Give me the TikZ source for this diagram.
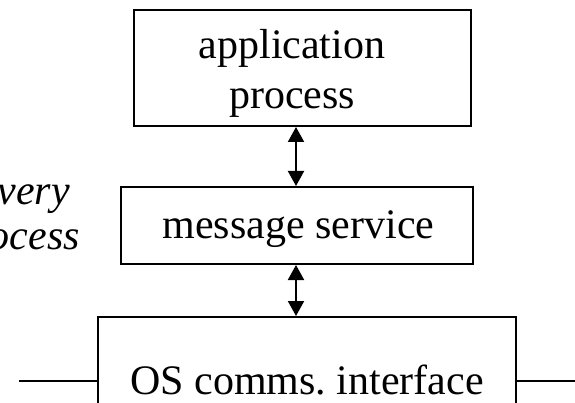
\documentclass[tikz,border=0pt]{standalone}
\usepackage{fontspec}
\setmainfont{Liberation Serif}
\usetikzlibrary{arrows.meta}
\tikzset{
	box/.style={draw, line width=2pt, inner sep=0pt},
	label text/.style={inner sep=0pt, align=center},
	link/.style={line width=2pt, {Triangle[length=15pt, width=16pt]}-{Triangle[length=15pt, width=16pt]}}
}
\begin{document}
\begin{tikzpicture}[x=1pt, y=-1pt, font=\fontsize{42}{50}\selectfont]
		\useasboundingbox (0, 0) rectangle (575, 403);
		\clip (0, 0) rectangle (575, 403);
		\node[box, minimum width=337pt, minimum height=116pt] (app) at (302.5, 68) {};
		\node[label text] (apptext) at (292, 73) {application\\process};
		\node[box, minimum width=352pt, minimum height=77pt] (msg) at (297, 225.5) {};
		\node[label text] (msgtext) at (298.5, 229) {message service};
		\node[box, minimum width=418pt, text height=77pt, text depth=60pt, anchor=north] (os) at (307, 316)
			{OS comms.\ interface};
		\coordinate (ax) at (296, 0);
		\draw[link] (app.south -| ax) -- (msg.north -| ax);
		\draw[link] (msg.south -| ax) -- (os.north -| ax);
		\coordinate (lineL) at (19, 381);
		\coordinate (lineR) at (575, 381);
		\draw[line width=2pt] (lineL) -- (lineL -| os.west);
		\draw[line width=2pt] (os.east |- lineR) -- (lineR);
		\node[anchor=base east, inner sep=0pt, font=\fontsize{42}{50}\selectfont\itshape] (very) at (70, 205) {very};
		\node[anchor=base east, inner sep=0pt, font=\fontsize{42}{50}\selectfont\itshape] (ocess) at (80, 250) {ocess};
	\end{tikzpicture}
\end{document}
